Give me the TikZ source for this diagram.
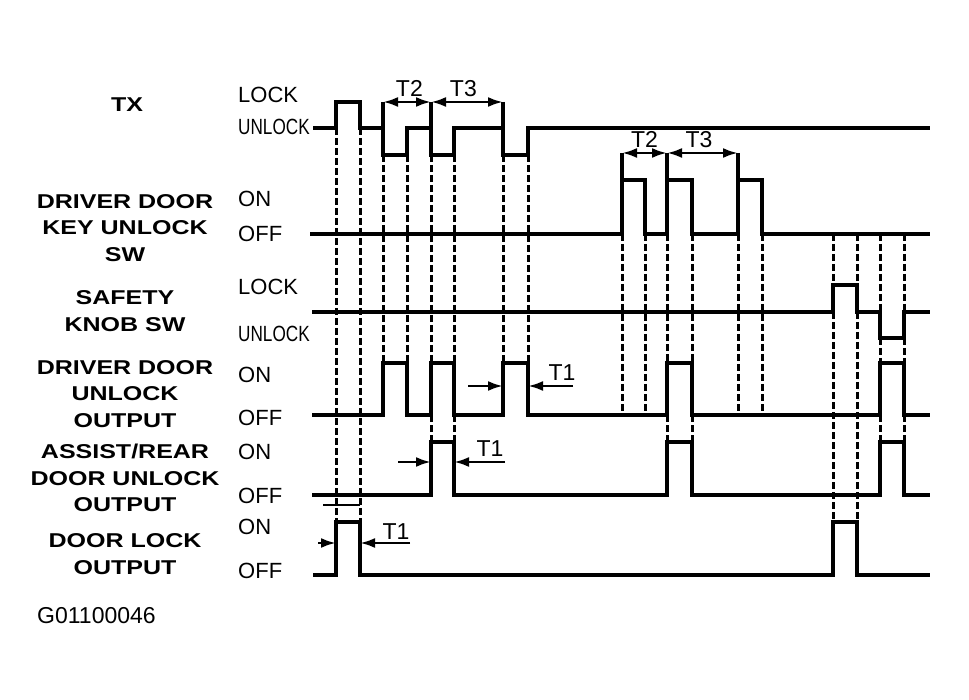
\documentclass[tikz,border=0pt]{standalone}
\usepackage{fontspec}
\setmainfont{Liberation Sans}
\newfontfamily\widebold[FakeStretch=1.25]{Liberation Sans}
\newfontfamily\narrowfont[FakeStretch=0.78]{Liberation Sans}
\usetikzlibrary{arrows.meta}

\tikzset{
  wave/.style={line width=3.2pt},
  guide/.style={line width=3pt, dash pattern=on 7pt off 3pt},
  dim/.style={line width=2.8pt, -{Latex[length=15pt,width=10pt]}},
  dimboth/.style={line width=2.8pt, {Latex[length=15pt,width=10pt]}-{Latex[length=15pt,width=10pt]}},
  sig/.style={font=\widebold\bfseries\fontsize{20}{26.5}\selectfont, align=center},
  lvl/.style={font=\fontsize{22}{22}\selectfont, anchor=west, inner sep=0pt},
  tlabel/.style={font=\fontsize{23}{23}\selectfont, inner sep=0pt}
}

\begin{document}
\begin{tikzpicture}[x=1pt,y=-1pt]
\useasboundingbox (0,0) rectangle (969,700);

% signal names
\node[sig] (tx) at (127,105) {TX};
\node[sig] (keysw) at (125,228) {DRIVER DOOR\\KEY UNLOCK\\SW};
\node[sig] (knobsw) at (125,311) {SAFETY\\KNOB SW};
\node[sig] (drvout) at (125,394) {DRIVER DOOR\\UNLOCK\\OUTPUT};
\node[sig] (rearout) at (125,478) {ASSIST/REAR\\DOOR UNLOCK\\OUTPUT};
\node[sig] (lockout) at (125,554) {DOOR LOCK\\OUTPUT};
\node[lvl, font=\fontsize{23}{23}\selectfont] (fig) at (37,616) {G01100046};

% levels
\node[lvl] (txlock) at (238,95) {LOCK};
\node[lvl] (txunlock) at (238,127) {\narrowfont UNLOCK};
\node[lvl] (keyon) at (238,199) {ON};
\node[lvl] (keyoff) at (238,234) {OFF};
\node[lvl] (knoblock) at (238,287) {LOCK};
\node[lvl] (knobunlock) at (238,334) {\narrowfont UNLOCK};
\node[lvl] (drvon) at (238,375) {ON};
\node[lvl] (drvoff) at (238,418) {OFF};
\node[lvl] (rearon) at (238,452) {ON};
\node[lvl] (rearoff) at (238,496) {OFF};
\node[lvl] (lockon) at (238,527) {ON};
\node[lvl] (lockoff) at (238,571) {OFF};

% waveforms
\draw[wave] (313,128) -- (336,128) -- (336,102) -- (360,102) -- (360,128) -- (383,128) -- (383,155) -- (407,155) -- (407,128) -- (431,128) -- (431,155) -- (454,155) -- (454,128) -- (503,128) -- (503,155) -- (528,155) -- (528,128) -- (930,128);
\draw[wave] (310,234) -- (622,234) -- (622,180) -- (645,180) -- (645,234) -- (667,234) -- (667,180) -- (692,180) -- (692,234) -- (738,234) -- (738,180) -- (762,180) -- (762,234) -- (930,234);
\draw[wave] (312,312) -- (833,312) -- (833,285) -- (857,285) -- (857,312) -- (880,312) -- (880,338) -- (904,338) -- (904,312) -- (930,312);
\draw[wave] (312,415) -- (383,415) -- (383,363) -- (407,363) -- (407,415) -- (431,415) -- (431,363) -- (454,363) -- (454,415) -- (503,415) -- (503,363) -- (528,363) -- (528,415) -- (667,415) -- (667,363) -- (692,363) -- (692,415) -- (880,415) -- (880,363) -- (904,363) -- (904,415) -- (930,415);
\draw[wave] (312,495) -- (431,495) -- (431,442) -- (454,442) -- (454,495) -- (667,495) -- (667,442) -- (692,442) -- (692,495) -- (880,495) -- (880,442) -- (904,442) -- (904,495) -- (930,495);
\draw[wave] (313,575) -- (336,575) -- (336,522) -- (360,522) -- (360,575) -- (833,575) -- (833,522) -- (857,522) -- (857,575) -- (930,575);

% dashed timing guides
\foreach \x/\a/\b in {336/128/522, 360/128/522, 383/155/363, 407/155/363,
  431/155/363, 454/155/363, 431/415/442, 454/415/442, 503/155/363, 528/155/363,
  622/234/415, 645/234/415, 667/234/363, 692/234/363, 667/415/442, 692/415/442,
  738/234/415, 762/234/415, 833/234/285, 857/234/285, 833/312/522, 857/312/522,
  880/234/312, 904/234/312, 880/338/363, 904/338/363, 880/415/442, 904/415/442}
  \draw[guide] (\x,\a) -- (\x,\b);

% T2 / T3
\coordinate (a1) at (383,102);
\coordinate (a2) at (431,102);
\coordinate (a3) at (503,102);
\coordinate (b1) at (622,153);
\coordinate (b2) at (667,153);
\coordinate (b3) at (738,153);
\draw[wave] (a1) -- (383,128);
\draw[wave] (a2) -- (431,128);
\draw[wave] (a3) -- (503,128);
\draw[wave] (b1) -- (622,180);
\draw[wave] (b2) -- (667,180);
\draw[wave] (b3) -- (738,180);
\draw[dimboth] (a1) -- node[tlabel, pos=0.55, above=4pt] (t2a) {T2} (a2);
\draw[dimboth] (a2) -- node[tlabel, pos=0.45, above=4pt] (t3a) {T3} (a3);
\draw[dimboth] (b1) -- node[tlabel, pos=0.5, above=4pt] (t2b) {T2} (b2);
\draw[dimboth] (b2) -- node[tlabel, pos=0.45, above=4pt] (t3b) {T3} (b3);

% T1
\coordinate (c1) at (468,386);
\coordinate (c2) at (573,386);
\coordinate (d1) at (398,462);
\coordinate (d2) at (505,462);
\coordinate (e1) at (318,543);
\coordinate (e2) at (410,543);
\draw[dim] (c1) -- (503,386);
\draw[dim] (c2) -- (528,386);
\draw[dim] (d1) -- (431,462);
\draw[dim] (d2) -- (454,462);
\draw[dim] (e1) -- (336,543);
\draw[dim] (e2) -- (360,543);
\node[tlabel] (t1a) at (562,373) {T1};
\node[tlabel] (t1b) at (490,449) {T1};
\node[tlabel] (t1c) at (396,532) {T1};
\draw[line width=2.6pt] (323,505) -- (360,505);
\end{tikzpicture}
\end{document}
